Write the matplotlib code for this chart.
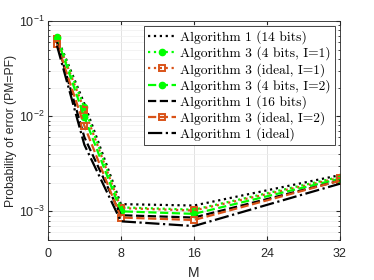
import numpy as np
import matplotlib
matplotlib.use("Agg")
import matplotlib.pyplot as plt
from matplotlib.ticker import LogLocator, NullFormatter

# data
M = [1, 4, 8, 16, 32]
alg1_14bits = [0.068, 0.0135, 1.19e-3, 1.15e-3, 2.4e-3]
alg3_4bits_i1 = [0.068, 0.0124, 1.10e-3, 1.04e-3, 2.3e-3]
alg3_ideal_i1 = [0.064, 0.0116, 1.08e-3, 1.02e-3, 2.25e-3]
alg3_4bits_i2 = [0.066, 0.0098, 1.00e-3, 9.4e-4, 2.2e-3]
alg1_16bits = [0.060, 0.0060, 9.1e-4, 8.6e-4, 2.1e-3]
alg3_ideal_i2 = [0.057, 0.0079, 8.6e-4, 8.1e-4, 2.1e-3]
alg1_ideal = [0.055, 0.0050, 7.85e-4, 7.0e-4, 1.95e-3]

green = "#00ff00"
orange = "#d95319"

plt.rcParams['font.family'] = ['Liberation Sans', 'DejaVu Sans']

fig = plt.figure(figsize=(3.74, 2.8), dpi=100)
ax = fig.add_axes([0.128, 0.143, 0.781, 0.782])

lw = 1.6
ax.plot(M, alg1_14bits, ':', color='k', lw=lw, label="Algorithm 1 (14 bits)")
ax.plot(M, alg3_4bits_i1, ':', color=green, lw=lw, marker='o', ms=4.5,
        mfc=green, label="Algorithm 3 (4 bits, I=1)")
ax.plot(M, alg3_ideal_i1, ':', color=orange, lw=lw, marker='s', ms=4.5,
        mfc='none', mew=1.4, label="Algorithm 3 (ideal, I=1)")
ax.plot(M, alg3_4bits_i2, '--', color=green, lw=lw, marker='o', ms=4.5,
        mfc=green, label="Algorithm 3 (4 bits, I=2)")
ax.plot(M, alg1_16bits, '--', color='k', lw=lw, label="Algorithm 1 (16 bits)")
ax.plot(M, alg3_ideal_i2, '--', color=orange, lw=lw, marker='s', ms=4.5,
        mfc='none', mew=1.4, label="Algorithm 3 (ideal, I=2)")
ax.plot(M, alg1_ideal, '-.', color='k', lw=lw, label="Algorithm 1 (ideal)")

ax.set_yscale('log')
ax.set_xlim(0, 32)
ax.set_ylim(5e-4, 1e-1)
ax.set_xticks([0, 8, 16, 24, 32])
ax.yaxis.set_minor_locator(LogLocator(base=10, subs=np.arange(2, 10)))
ax.yaxis.set_minor_formatter(NullFormatter())

ax.grid(True, which='major', color='#dddddd', lw=0.6)
ax.grid(True, which='minor', axis='y', color='#eeeeee', lw=0.5)
ax.set_axisbelow(True)

ax.tick_params(which='both', direction='in', top=True, right=True,
               colors='#262626', labelsize=9)
ax.tick_params(which='major', length=3)
ax.tick_params(which='minor', length=1.5)
ax.tick_params(axis='x', pad=6)
ax.tick_params(axis='y', pad=2.5)
for s in ax.spines.values():
    s.set_color('#262626')
    s.set_linewidth(0.6)

ax.set_xlabel("M", fontsize=10, color='#262626')
ax.xaxis.set_label_coords(0.5, -0.119)
ax.set_ylabel("Probability of error (PM=PF)", fontsize=8.7, color='#262626')
ax.yaxis.set_label_coords(-0.107, 0.5)

leg = ax.legend(loc='upper right', prop={'family': 'cmr10', 'size': 9.7},
                fancybox=False, edgecolor='#262626', framealpha=1,
                handlelength=2.1, handletextpad=0.3, labelspacing=0.18,
                borderaxespad=0.4, borderpad=0.3)
leg.get_frame().set_linewidth(0.6)

fig.savefig("out.png", dpi=100)
